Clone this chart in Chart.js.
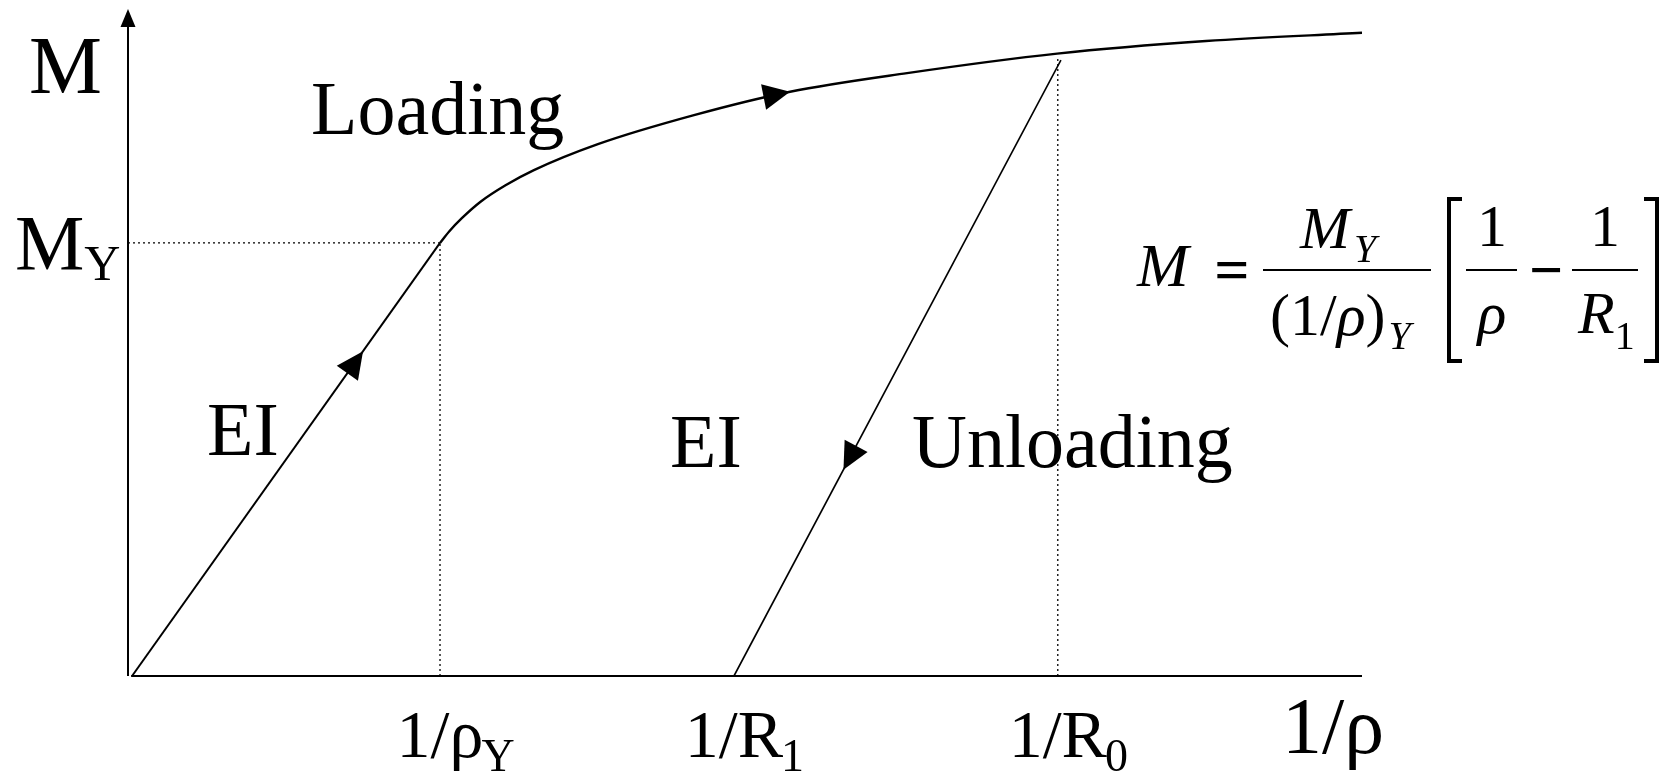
<!DOCTYPE html>
<html>
<head>
<meta charset="utf-8">
<script src="https://cdn.jsdelivr.net/npm/chart.js@4.4.1/dist/chart.umd.min.js"></script>
<style>
  html, body { margin: 0; padding: 0; background: #ffffff; }
  #wrap { width: 1674px; height: 775px; position: relative; }
</style>
</head>
<body>
<div id="wrap"><canvas id="chart"></canvas></div>
<script>
// Moment–curvature diagram: elastic loading, strain hardening, elastic unloading.
// Curvature 1/ρ on x, bending moment M on y (M_Y = 1, (1/ρ)_Y = 1).

const axisMaxX = 3.955;
const axisMaxY = 1.54;

// elastic branch, slope EI
const elasticX = [0.013, 1.0];
const elasticY = [0.0, 1.0];

// plastic loading branch beyond yield
const loadingX = [1.0, 1.03, 1.07, 1.13, 1.21, 1.301, 1.506, 1.814, 2.122, 2.497, 2.978, 3.455, 3.955];
const loadingY = [1.0, 1.027, 1.057, 1.095, 1.133, 1.168, 1.228, 1.295, 1.349, 1.392, 1.437, 1.466, 1.485];
const loadingArrowIndex = 8;

// elastic unloading from 1/R0 down to the residual curvature 1/R1
const unloadingX = [1.942, 2.99];
const unloadingY = [0.0, 1.422];

// marked curvatures on the x axis
const tickValues = [1.0, 1.942, 2.98];
const tickMain = ['1/\u03C1', '1/R', '1/R'];
const tickSub = ['Y', '1', '0'];

const yieldMoment = 1.0;
const peakMoment = 1.43;

const SERIF = '"Liberation Serif", "Times New Roman", serif';

function pts(xs, ys) { return xs.map((x, i) => ({ x: x, y: ys[i] })); }

function lineSet(data, width, dash) {
  return {
    data: data,
    borderColor: '#000',
    borderWidth: width,
    borderDash: dash || [],
    pointRadius: 0,
    showLine: true,
    fill: false,
    clip: false,
    tension: 0
  };
}

const datasets = [
  lineSet([{ x: 0, y: 0 }, { x: 0, y: axisMaxY - 0.03 }], 2),          // M axis
  lineSet([{ x: 0.01, y: 0 }, { x: axisMaxX, y: 0 }], 2.2),             // 1/ρ axis
  lineSet([{ x: 0, y: yieldMoment }, { x: tickValues[0], y: yieldMoment }], 1.3, [2, 3]),
  lineSet([{ x: tickValues[0], y: 0 }, { x: tickValues[0], y: yieldMoment }], 1.3, [2, 3]),
  lineSet([{ x: tickValues[2], y: 0 }, { x: tickValues[2], y: peakMoment }], 1.3, [2, 3]),
  lineSet(pts(elasticX, elasticY), 2),
  Object.assign(lineSet(pts(loadingX, loadingY), 2.4), { cubicInterpolationMode: 'monotone' }),
  lineSet(pts(unloadingX, unloadingY), 1.6)
];

function arrowHead(ctx, tip, from, len, halfW) {
  const a = Math.atan2(tip.y - from.y, tip.x - from.x);
  ctx.save();
  ctx.translate(tip.x, tip.y);
  ctx.rotate(a);
  ctx.beginPath();
  ctx.moveTo(0, 0);
  ctx.lineTo(-len, -halfW);
  ctx.lineTo(-len, halfW);
  ctx.closePath();
  ctx.fillStyle = '#000';
  ctx.fill();
  ctx.restore();
}

function text(ctx, str, x, y, font, align) {
  ctx.font = font;
  ctx.textAlign = align || 'left';
  ctx.textBaseline = 'alphabetic';
  ctx.fillStyle = '#000';
  ctx.fillText(str, x, y);
  return ctx.measureText(str).width;
}

const diagramPlugin = {
  id: 'diagram',
  afterDatasetsDraw(chart) {
    const ctx = chart.ctx;
    const xs = chart.scales.x, ys = chart.scales.y;
    const P = (x, y) => ({ x: xs.getPixelForValue(x), y: ys.getPixelForValue(y) });

    // arrowheads
    arrowHead(ctx, P(0, axisMaxY), P(0, 0), 18, 7.5);
    const t = 0.75;
    const ex = elasticX[0] + t * (elasticX[1] - elasticX[0]);
    const ey = elasticY[0] + t * (elasticY[1] - elasticY[0]);
    arrowHead(ctx, P(ex, ey), P(elasticX[0], elasticY[0]), 27, 13);
    const k = loadingArrowIndex;
    const prev = P(loadingX[k - 1], loadingY[k - 1]);
    const next = P(loadingX[k + 1], loadingY[k + 1]);
    const tipL = P(loadingX[k], loadingY[k]);
    arrowHead(ctx, tipL, { x: tipL.x - (next.x - prev.x), y: tipL.y - (next.y - prev.y) }, 27, 13);
    const u = 0.335;
    const ux = unloadingX[0] + u * (unloadingX[1] - unloadingX[0]);
    const uy = unloadingY[0] + u * (unloadingY[1] - unloadingY[0]);
    arrowHead(ctx, P(ux, uy), P(unloadingX[1], unloadingY[1]), 27, 13);

    // axis titles
    text(ctx, 'M', 29, 93, '82px ' + SERIF);
    const mw = text(ctx, 'M', 15, 269, '78px ' + SERIF);
    text(ctx, 'Y', 15 + mw, 280, '50px ' + SERIF);
    text(ctx, '1/\u03C1', 1282, 753, '80px ' + SERIF);

    // curvature tick labels
    tickValues.forEach((v, i) => {
      const cx = xs.getPixelForValue(v);
      ctx.font = '68px ' + SERIF;
      const w = ctx.measureText(tickMain[i]).width;
      text(ctx, tickMain[i], cx - w / 2, 757, '68px ' + SERIF);
      text(ctx, tickSub[i], cx + w / 2 - 2, 771, '46px ' + SERIF);
    });

    // branch labels
    text(ctx, 'Loading', 311, 134, '76px ' + SERIF);
    text(ctx, 'EI', 207, 455, '76px ' + SERIF);
    text(ctx, 'EI', 670, 467, '76px ' + SERIF);
    text(ctx, 'Unloading', 912, 467, '76px ' + SERIF);

    // unloading law
    const IT = 'italic 62px ' + SERIF;
    const RM = '60px ' + SERIF;
    text(ctx, 'M', 1137, 286, IT);
    text(ctx, '=', 1232, 290, 'bold 62px ' + SERIF, 'center');
    ctx.strokeStyle = '#000';
    ctx.lineWidth = 2;
    ctx.beginPath();
    ctx.moveTo(1263, 270); ctx.lineTo(1431, 270);
    ctx.moveTo(1466, 270); ctx.lineTo(1517, 270);
    ctx.moveTo(1572, 270); ctx.lineTo(1638, 270);
    ctx.stroke();
    const nw = text(ctx, 'M', 1300, 248, 'italic 60px ' + SERIF);
    text(ctx, 'Y', 1300 + nw + 4, 262, 'italic 40px ' + SERIF);
    let dx = 1270;
    dx += text(ctx, '(1/', dx, 335, RM);
    dx += text(ctx, '\u03C1', dx, 335, 'italic 60px ' + SERIF);
    dx += text(ctx, ')', dx, 335, RM);
    text(ctx, 'Y', dx + 3, 349, 'italic 40px ' + SERIF);
    // brackets
    ctx.lineWidth = 4;
    ctx.lineCap = 'butt';
    ctx.beginPath();
    ctx.moveTo(1462, 199); ctx.lineTo(1449, 199); ctx.lineTo(1449, 361); ctx.lineTo(1462, 361);
    ctx.moveTo(1644, 199); ctx.lineTo(1657, 199); ctx.lineTo(1657, 361); ctx.lineTo(1644, 361);
    ctx.stroke();
    text(ctx, '1', 1492, 246, RM, 'center');
    text(ctx, '\u03C1', 1492, 333, 'italic 60px ' + SERIF, 'center');
    text(ctx, '\u2212', 1546, 290, 'bold 60px ' + SERIF, 'center');
    text(ctx, '1', 1605, 246, RM, 'center');
    const rw = text(ctx, 'R', 1578, 333, 'italic 60px ' + SERIF);
    text(ctx, '1', 1578 + rw, 349, '40px ' + SERIF);
  }
};

new Chart(document.getElementById('chart'), {
  type: 'scatter',
  data: { datasets: datasets },
  options: {
    responsive: true,
    maintainAspectRatio: false,
    devicePixelRatio: 1,
    animation: false,
    events: [],
    layout: { padding: { left: 128, right: 1674 - 1362, top: 9, bottom: 775 - 676 } },
    scales: {
      x: { type: 'linear', min: 0, max: axisMaxX, display: false },
      y: { type: 'linear', min: 0, max: axisMaxY, display: false }
    },
    plugins: { legend: { display: false }, tooltip: { enabled: false } }
  },
  plugins: [diagramPlugin]
});
</script>
</body>
</html>
